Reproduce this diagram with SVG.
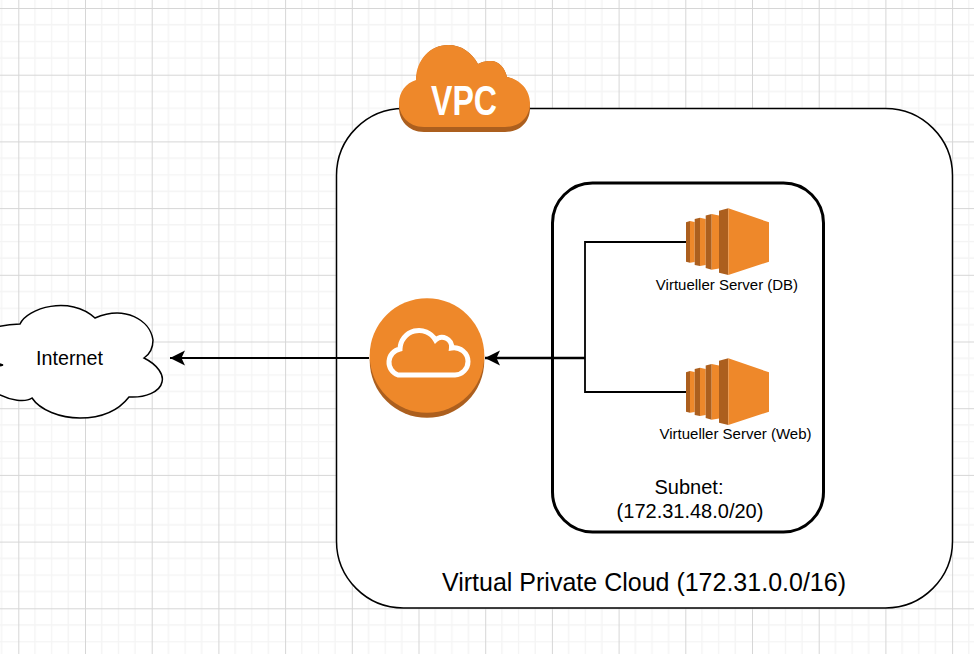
<svg xmlns="http://www.w3.org/2000/svg" width="974" height="654" viewBox="0 0 974 654">
<style>
text{font-family:"Liberation Sans",Arial,sans-serif;fill:#000}
.or{fill:#EE882A}.dk{fill:#AC5F1E}
.ln{fill:none;stroke:#000;stroke-width:1.800}
.mid{text-anchor:middle}
</style>
<defs>
<pattern id="grid" x="18.3" y="8" width="66.7" height="66.7" patternUnits="userSpaceOnUse">
<path d="M16.7 0V66.7M33.4 0V66.7M50 0V66.7M0 16.7H66.7M0 33.4H66.7M0 50H66.7" fill="none" stroke="#f4f4f4" stroke-width="1.3"/>
<path d="M0.5 0V66.7M0 0.5H66.7" fill="none" stroke="#d6d6d6" stroke-width="1"/>
</pattern>
<marker id="arr" markerUnits="userSpaceOnUse" markerWidth="17" markerHeight="17" refX="16" refY="8.500" orient="auto">
<path d="M16 8.500L1 1L4.500 8.500L1 16Z" fill="#000"/>
</marker>
<g id="ec2">
<path class="dk" d="M686 222.300L690 221V262.700L686 261.700Z"/><path class="or" d="M690 221L694.700 222V262L690 262.700Z"/>
<path class="dk" d="M694.700 219L700 217.700V266L694.700 265Z"/><path class="or" d="M700 217.700L705.700 219V265L700 266Z"/>
<path class="dk" d="M705.700 215.500L711.700 214V269.700L705.700 268Z"/><path class="or" d="M711.700 214L719 215.500V268.500L711.700 269.700Z"/>
<path class="dk" d="M719 210.700L728.300 208.300V275L719 272.700Z"/><path class="or" d="M728.300 208.300L769 222.300V261.700L728.300 275Z"/>
</g>
</defs>
<rect width="974" height="654" fill="#fff"/>
<rect width="974" height="654" fill="url(#grid)"/>
<g id="vpc-box"><rect x="336.500" y="108.500" width="616" height="499.500" rx="67" fill="#fff" stroke="#000" stroke-width="1.500"/>
<text x="644" y="591" font-size="25" class="mid">Virtual Private Cloud (172.31.0.0/16)</text></g>
<g id="subnet"><rect x="552.500" y="183" width="271" height="349" rx="40" fill="#fff" stroke="#000" stroke-width="3"/>
<text x="689" y="494" font-size="20" class="mid">Subnet:</text>
<text x="690" y="518" font-size="20" class="mid">(172.31.48.0/20)</text></g>
<g id="internet"><path d="M20 324C27 308 70 295 95 318C125 305 150 320 153 340C153 348 150 354 144 358C158 365 164 375 162 382C160 392 145 398 129 397C115 415 95 418 80 418C60 418 40 410 32 398C25 403 10 400 0 395C-10 392 -20 385 -20 378C-20 372 -10 368 3 365C-15 360 -25 350 -25 340C-25 330 0 325 20 324Z" fill="#fff" stroke="#000" stroke-width="1.500"/>
<text x="69.500" y="365" font-size="19.700" class="mid">Internet</text></g>
<g id="connectors">
<path class="ln" d="M686 242H585V358M686 392H585V358"/>
<path d="M585 358H485" fill="none" stroke="#000" stroke-width="2.500" marker-end="url(#arr)"/>
<path class="ln" d="M369 358H170" marker-end="url(#arr)"/>
</g>
<g id="gateway"><circle class="dk" cx="427" cy="360.500" r="57.300"/><circle class="or" cx="427" cy="355.500" r="57.300"/>
<path d="M398 375H455A13.500 13.500 0 0 0 468 361.500A14 14 0 0 0 451.500 348A9.500 9.500 0 0 0 435.500 340A19 19 0 0 0 400 349A13.500 13.500 0 0 0 398 375Z" fill="none" stroke="#fff" stroke-width="5"/></g>
<g id="vpc-badge">
<path class="dk" d="M416 85C416 60 430 45 448 45C462 45 472 53 478 64C484 61 487 61 491 61C499 61 505 68 507 77C520 79 530 95 530 108C530 122 520 132 505 132H424C408 132 399 120 399 108C399 97 406 88 416 85Z"/>
<path class="or" d="M416 80C416 60 430 45 448 45C462 45 472 53 478 64C484 61 487 61 491 61C499 61 505 68 507 77C520 79 530 90 530 103C530 117 520 127 505 127H424C408 127 399 115 399 103C399 92 406 83 416 80Z"/>
<text x="464" y="115" font-size="43" font-weight="bold" class="mid" style="fill:#fff" textLength="66" lengthAdjust="spacingAndGlyphs">VPC</text></g>
<g id="server-db"><use href="#ec2"/><text x="727" y="290" font-size="15" class="mid">Virtueller Server (DB)</text></g>
<g id="server-web"><use href="#ec2" y="150"/><text x="735.500" y="439" font-size="15" class="mid">Virtueller Server (Web)</text></g>
</svg>
